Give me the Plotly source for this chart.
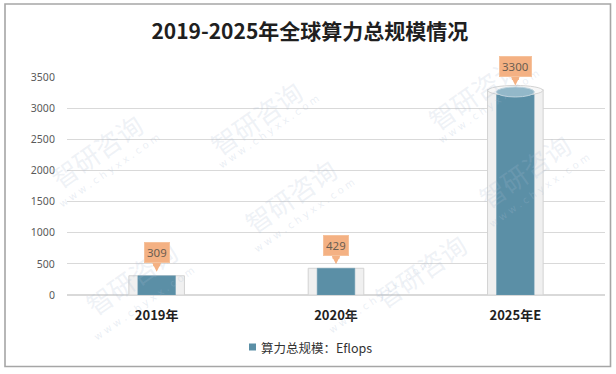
import plotly.graph_objects as go

# ---- data ----
categories = ["2019年", "2020年", "2025年E"]
values = [309, 429, 3300]
value_labels = ["309", "429", "3300"]
series_name = "算力总规模：Eflops"
title_text = "2019-2025年全球算力总规模情况"
y_ticks = [0, 500, 1000, 1500, 2000, 2500, 3000, 3500]

W, H = 616, 374
ML, MR, MT, MB = 67, 11, 77, 79
PW, PH = W - ML - MR, H - MT - MB


def px(xp):
    return (xp - ML) / PW


def py(yp):
    return (H - MB - yp) / PH


BLUE = "#5B8FA6"
ORANGE = "#F4B183"
CJK = "Noto Sans CJK SC"

fig = go.Figure()

# glass container cylinders
fig.add_trace(go.Bar(
    x=categories, y=values, width=0.31,
    marker=dict(color="#F0F0F0", line=dict(color="#D3D3D3", width=1)),
    showlegend=False, hoverinfo="skip",
))
# value cylinders
fig.add_trace(go.Bar(
    x=categories, y=values, width=0.21, name=series_name, showlegend=False,
    marker=dict(color=BLUE, line=dict(color="#6E9DB2", width=0.5)),
))

vmax = max(values)
shapes = []
for i, v in enumerate(values):
    eh = 10 * v / vmax  # perspective ellipse height in px
    if eh < 2:
        continue
    shapes.append(dict(type="circle", xref="x", yref="y", xsizemode="pixel", ysizemode="pixel",
                       xanchor=i, yanchor=v, x0=-27.5, x1=27.5, y0=-eh / 2 - 1, y1=eh / 2 - 1,
                       fillcolor="#F7F7F7", line=dict(color="#D3D3D3", width=1), layer="above"))
    shapes.append(dict(type="circle", xref="x", yref="y", xsizemode="pixel", ysizemode="pixel",
                       xanchor=i, yanchor=v, x0=-19, x1=19, y0=-eh / 2 - 2.5, y1=eh / 2 - 2.5,
                       fillcolor="#93B8C9", line=dict(color="#BFD4DE", width=1), layer="above"))

# outer border
shapes.append(dict(type="rect", xref="paper", yref="paper",
                   x0=px(5), x1=px(610.5), y0=py(366.5), y1=py(4),
                   line=dict(color="#A6A6A6", width=1.6), fillcolor="rgba(0,0,0,0)", layer="below"))

# legend swatch (manual legend)
shapes.append(dict(type="rect", xref="paper", yref="paper",
                   x0=px(249), x1=px(256), y0=py(350.5), y1=py(343.5),
                   fillcolor=BLUE, line=dict(width=0)))

annotations = []
# watermarks
wm = [(200, 70), (290, 195), (530, 45), (580, 170), (40, 150), (75, 325), (420, 318)]
for (wx, wy) in wm:
    annotations.append(dict(xref="paper", yref="paper", x=px(wx), y=py(wy), text="智研咨询",
                            showarrow=False, textangle=-35,
                            font=dict(family=CJK, size=26, color="rgba(170,188,212,0.20)")))
    annotations.append(dict(xref="paper", yref="paper", x=px(wx + 14), y=py(wy + 20),
                            text="w w w . c h y x x . c o m", showarrow=False, textangle=-35,
                            font=dict(family="DejaVu Sans", size=10, color="rgba(170,188,212,0.25)")))

# value callouts: arrow then box
for i, (c, v, t) in enumerate(zip(categories, values, value_labels)):
    annotations.append(dict(x=c, y=v, xref="x", yref="y", text="", showarrow=True,
                            ax=0, ay=-15, standoff=4, arrowhead=2, arrowsize=0.6,
                            arrowwidth=7, arrowcolor=ORANGE))
    annotations.append(dict(x=c, y=v, xref="x", yref="y", text=t, showarrow=False,
                            yanchor="middle", yshift=23, height=15,
                            bgcolor=ORANGE, bordercolor="#F6C29C", borderwidth=1, borderpad=2,
                            font=dict(family="Noto Sans", size=11.5, color="#6B5E52")))

# legend text
annotations.append(dict(xref="paper", yref="paper", x=px(259), y=py(347.5), xanchor="left",
                        yanchor="middle", text=series_name, showarrow=False,
                        font=dict(family=CJK, size=12.5, color="#333333")))

fig.update_layout(
    width=W, height=H,
    margin=dict(l=ML, r=MR, t=MT, b=MB),
    paper_bgcolor="white", plot_bgcolor="white",
    barmode="overlay",
    showlegend=False,
    hovermode=False,
    title=dict(text=title_text, x=0.503, xanchor="center", y=1 - 32 / H, yanchor="middle",
               font=dict(family=CJK, size=21, color="#1F1F1F", weight="bold")),
    xaxis=dict(type="category", showgrid=False, showline=False, zeroline=False,
               tickfont=dict(family=CJK, size=13, color="#1F1F1F", weight="bold"),
               ticks="outside", ticklen=8, tickcolor="rgba(0,0,0,0)"),
    yaxis=dict(range=[0, 3500], tickvals=y_ticks, showgrid=True, gridcolor="#D9D9D9", gridwidth=1,
               zeroline=True, zerolinecolor="#D9D9D9", showline=False,
               tickfont=dict(family="Noto Sans", size=10.5, color="#595959"),
               ticks="outside", ticklen=9, tickcolor="rgba(0,0,0,0)"),
    shapes=shapes,
    annotations=annotations,
    bargap=0.5,
)

fig.write_html("out.html", config={"displayModeBar": False},
               post_script="document.body.style.margin='0px';")
